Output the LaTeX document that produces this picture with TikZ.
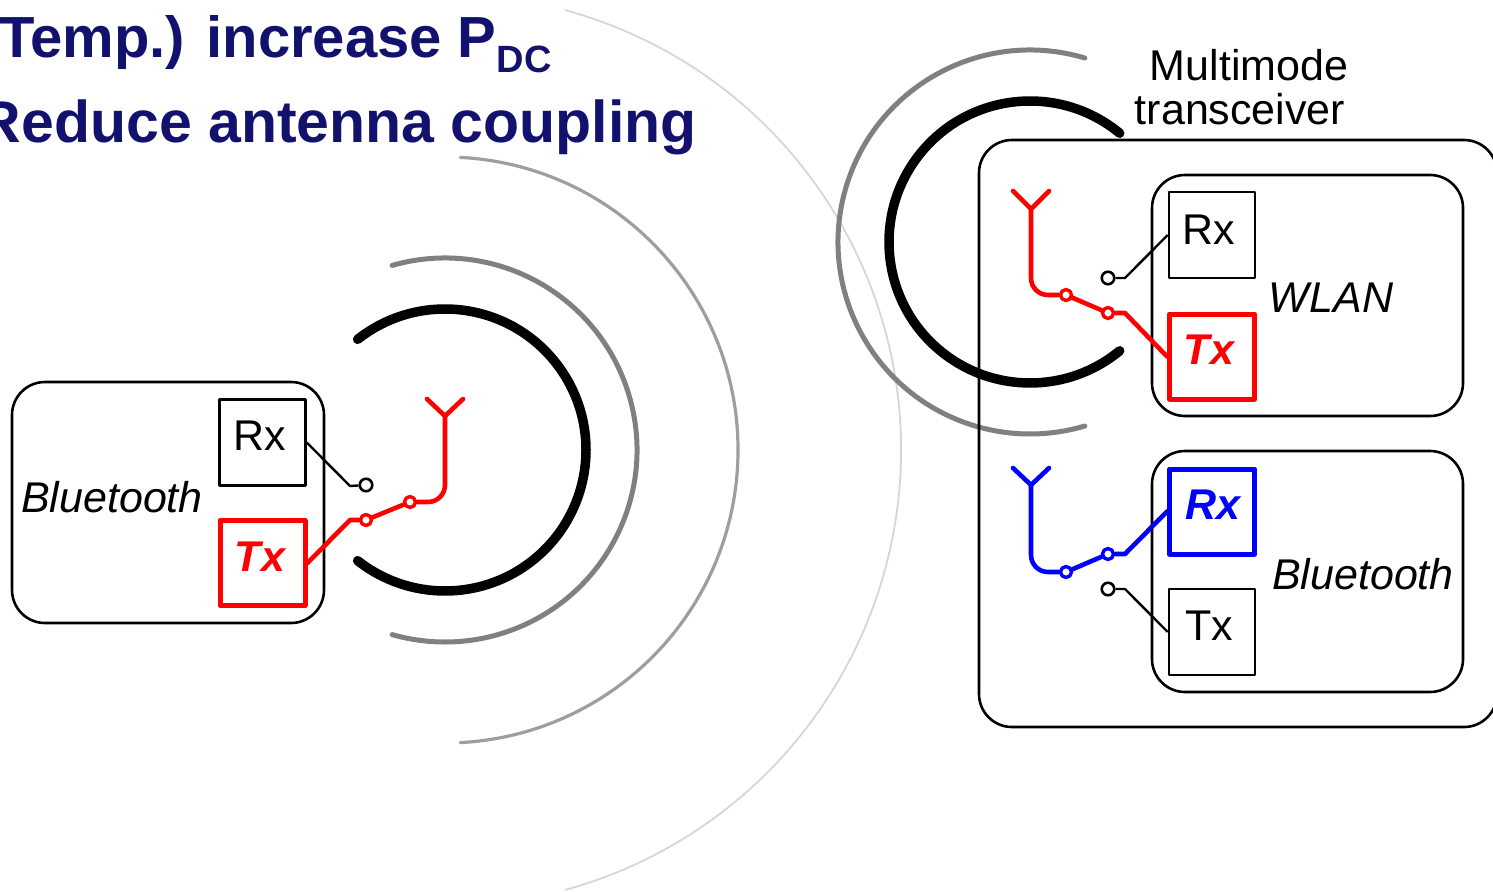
\documentclass[tikz,border=0pt]{standalone}
\usepackage{xcolor}
\usepackage{fontspec}
\setmainfont{Liberation Sans}
\definecolor{titleblue}{HTML}{12126E}
\definecolor{sigred}{HTML}{FF0000}
\definecolor{sigblue}{HTML}{0000FF}
\newcommand\labelfont{\fontsize{43}{44}\selectfont}
\newcommand\titlefont{\fontsize{59}{60}\selectfont\bfseries\color{titleblue}}

\begin{document}
\begin{tikzpicture}[x=1pt, y=-1pt, line join=round,
    every node/.style={font=\labelfont, inner sep=0pt},
    unitbox/.style={draw, line width=2.6pt, rounded corners=33pt},
    chipbox/.style={draw, line width=2.6pt, minimum size=86pt},
    redchip/.style={draw=sigred, line width=5pt, minimum size=85pt},
    bluechip/.style={draw=sigblue, line width=5pt, minimum size=85pt},
    switch/.style={circle, draw, line width=2.6pt, minimum size=12.5pt},
    redswitch/.style={circle, draw=sigred, line width=3.4pt, minimum size=11pt},
    blueswitch/.style={circle, draw=sigblue, line width=3.4pt, minimum size=11pt},
    wire/.style={line width=2.4pt},
    redwire/.style={draw=sigred, line width=4.6pt, line cap=round},
    bluewire/.style={draw=sigblue, line width=4.6pt, line cap=round}]
  \path[use as bounding box, clip] (0,0) rectangle (1493,891);

  % title
  \node[anchor=base west, font=\titlefont] (title1) at (-1,58)
    {\fontsize{58}{60}\selectfont Temp.) increase P\raisebox{-14pt}{\fontsize{38}{38}\selectfont DC}};
  \node[anchor=base east, font=\titlefont] (title2) at (697,142) {Reduce antenna coupling};

  % waves
  \coordinate (leftwave) at (445,450);
  \coordinate (rightwave) at (1030,242);
  \foreach \rad/\ang/\wid/\col in {456/74.7/1.8/black!16, 293/87/3.2/black!38, 192/106/5/black!50, 141/128.3/9.5/black}
    \draw[line width=\wid pt, draw=\col, line cap=round] (leftwave) ++(-\ang:\rad) arc[start angle=-\ang, end angle=\ang, radius=\rad];
  \foreach \rad/\ang/\wid/\col in {192/73.4/5/black!50, 141/50.5/9.5/black}
    \draw[line width=\wid pt, draw=\col, line cap=round] (rightwave) ++(360-\ang:\rad) arc[start angle=360-\ang, end angle=\ang, radius=\rad];

  % left device
  \node[unitbox, minimum width=312pt, minimum height=241pt] (leftunit) at (168,502.5) {};
  \node[chipbox] (leftrx) at (262.5,442.5) {};
  \node[redchip] (lefttx) at (262.5,563) {};
  \node (leftrxtext) at (260,436) {Rx};
  \node[text=sigred, font=\labelfont\bfseries\itshape] (lefttxtext) at (260,557) {Tx};
  \node[font=\labelfont\itshape] (leftname) at (112,497) {Bluetooth};
  \node[switch] (leftswa) at (366,485) {};
  \node[redswitch] (leftswb) at (366,520) {};
  \node[redswitch] (leftswc) at (410,502) {};
  \coordinate (leftant) at (445,416);
  \draw[wire] (leftrx.east) -- (350,486) -- (leftswa);
  \draw[redwire] (lefttx.east) -- (350,520) -- (leftswb);
  \draw[redwire] (leftswb) -- (leftswc);
  \draw[redwire] (leftswc) -- (428,502) to[out=0, in=-90] (445,485) -- (leftant);
  \draw[redwire] (427,399) -- (leftant) -- (463,399);

  % right device
  \node[unitbox, minimum width=518pt, minimum height=587pt] (rightunit) at (1238,433.5) {};
  \node[font=\labelfont, align=center] (rightname) at (1240,87) {\hspace*{18pt}Multimode\\transceiver};

  % wlan
  \node[unitbox, minimum width=311pt, minimum height=241pt] (wlanunit) at (1307.5,295.5) {};
  \node[chipbox] (wlanrx) at (1212,235) {};
  \node[redchip] (wlantx) at (1212,356.5) {};
  \node (wlanrxtext) at (1209,230) {Rx};
  \node[text=sigred, font=\labelfont\bfseries\itshape] (wlantxtext) at (1209,350) {Tx};
  \node[font=\labelfont\itshape] (wlanname) at (1331,298) {WLAN};
  \node[switch] (wlanswa) at (1108,278) {};
  \node[redswitch] (wlanswb) at (1108,313) {};
  \node[redswitch] (wlanswc) at (1066,295) {};
  \coordinate (wlanant) at (1031,209);
  \draw[wire] (wlanrx.west) -- (1125,278) -- (wlanswa);
  \draw[redwire] (wlantx.west) -- (1125,313) -- (wlanswb);
  \draw[redwire] (wlanswb) -- (wlanswc);
  \draw[redwire] (wlanswc) -- (1048,295) to[out=180, in=-90] (1031,278) -- (wlanant);
  \draw[redwire] (1013,191) -- (wlanant) -- (1049,191);

  % bluetooth
  \node[unitbox, minimum width=311pt, minimum height=241pt] (btunit) at (1307.5,571.5) {};
  \node[bluechip] (btrx) at (1212,511.5) {};
  \node[chipbox] (bttx) at (1212,632) {};
  \node[text=sigblue, font=\labelfont\bfseries\itshape] (btrxtext) at (1213,505) {Rx};
  \node (bttxtext) at (1209,626) {Tx};
  \node[font=\labelfont\itshape] (btname) at (1363,574) {Bluetooth};
  \node[switch] (btswa) at (1108,589) {};
  \node[blueswitch] (btswb) at (1108,554) {};
  \node[blueswitch] (btswc) at (1066,572) {};
  \coordinate (btant) at (1031,485);
  \draw[bluewire] (btrx.west) -- (1125,554) -- (btswb);
  \draw[bluewire] (btswb) -- (btswc);
  \draw[bluewire] (btswc) -- (1048,572) to[out=180, in=-90] (1031,555) -- (btant);
  \draw[bluewire] (1013,468) -- (btant) -- (1049,468);
  \draw[wire] (bttx.west) -- (1125,589) -- (btswa);
\end{tikzpicture}
\end{document}
